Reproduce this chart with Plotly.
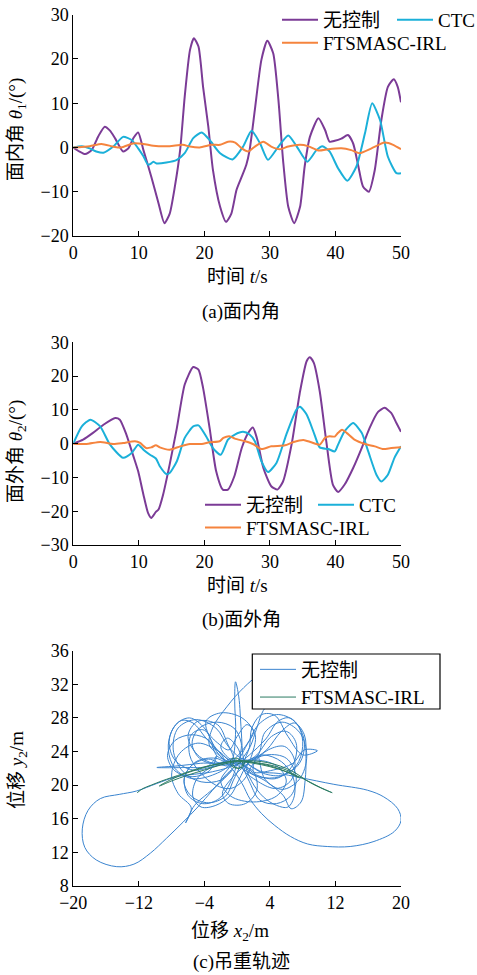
import plotly.graph_objects as go

# ---------------- data: (a) in-plane angle ----------------
t_a_nc = [0,0.9,1.8,2.8,3.8,4.8,5.6,6.4,7.6,8.4,9.2,9.9,10.7,11.9,13.0,13.9,14.7,15.5,16.3,17.0,17.8,18.4,19.1,19.8,20.6,21.3,22.4,23.3,24.1,24.9,25.7,26.4,26.9,27.7,28.7,29.6,30.5,31.3,32.0,32.8,33.7,34.6,35.3,36.1,37.4,38.4,39.1,39.9,40.9,41.9,42.7,43.5,44.2,45.1,46.0,47.0,48.0,48.9,49.5,50.0]
v_a_nc = [0,-0.9,-1.5,-0.6,2.5,4.7,3.8,2.0,-0.9,-0.2,2.2,3.4,-0.6,-6.6,-12.6,-17.1,-15.0,-8.8,-0.6,11.5,22.0,24.7,22.8,13.7,4.7,-5.0,-13.4,-16.8,-15.0,-9.6,-6.6,-3.9,-0.6,8.5,19.8,24.1,21.3,10.7,-2.8,-13.4,-17.1,-13.4,-4.3,2.4,6.6,4.0,1.3,1.5,2.0,2.8,0.9,-4.3,-8.8,-10.0,-5.1,6.2,13.7,15.4,13.7,10.2]

t_a_ctc = [0,1.3,2.5,3.5,4.6,6.1,7.6,8.9,9.9,10.7,11.4,11.9,12.2,12.7,14.2,15.8,17.0,18.3,19.6,20.8,22.4,24.3,25.9,27.2,28.5,29.7,31.3,32.8,34.1,35.7,37.1,38.0,39.1,40.4,41.8,43.2,44.5,45.6,46.8,48.0,49.3,50.0]
v_a_ctc = [0,0.3,-0.2,-0.9,-1.2,0.2,2.4,1.7,-0.2,-2.0,-3.9,-3.6,-3.2,-3.6,-3.4,-2.8,-1.3,2.1,3.4,1.7,-1.3,-2.7,0.2,3.8,0.9,-2.8,0.2,2.7,0.2,-3.2,-0.6,0.3,-0.9,-4.7,-7.5,-4.3,3.2,10.0,6.2,-2.1,-5.8,-5.8]

t_a_ft = [0,2.5,4.3,6.1,7.3,9.1,10.7,12.2,14.7,16.7,17.8,19.3,21.1,22.4,23.6,24.7,25.7,26.7,27.7,29.0,30.2,31.5,32.8,34.6,35.8,37.4,38.9,40.9,42.4,43.7,45.5,47.5,48.8,50.0]
v_a_ft = [0,0.3,0.8,0.2,0.0,0.9,0.8,0.4,0.3,0.6,0.2,0.0,0.6,0.6,1.3,1.1,-0.2,-0.9,0.2,1.3,0.2,-0.4,0.2,0.6,0.3,-0.7,-0.4,-0.2,-0.6,-1.3,-0.2,1.1,0.6,-0.4]

# ---------------- data: (b) out-of-plane angle ----------------
t_b_nc = [0,1.5,3.0,4.6,6.4,7.1,8.1,9.1,9.9,10.7,11.4,11.9,12.6,13.0,13.7,14.7,15.8,17.0,18.3,19.1,19.8,20.8,21.8,22.8,23.6,24.6,25.7,26.7,27.4,28.0,29.0,30.2,31.15,32.0,33.3,34.6,35.6,36.1,36.7,37.6,38.6,39.6,40.4,41.4,42.7,44.0,45.2,46.5,47.5,48.5,49.3,50.0]
v_b_nc = [0,1.2,3.2,5.6,7.6,7.1,2.7,-3.3,-8.2,-15.1,-20.5,-22.0,-20.2,-19.5,-15.1,-6.2,4.6,17.5,22.7,21.9,16.5,4.6,-8.2,-13.6,-13.6,-9.5,-1.3,3.2,4.8,1.7,-7.2,-12.6,-13.6,-11.2,-0.3,15.5,24.4,25.6,23.9,15.5,0.7,-12.1,-14.3,-12.1,-7.2,-1.3,4.6,9.4,10.6,9.1,6.1,3.5]

t_b_ctc = [0,1.3,2.6,4.1,5.6,7.6,8.9,9.9,10.7,11.7,12.6,13.2,14.2,14.7,15.8,17.0,18.3,19.1,20.1,21.3,22.5,23.6,24.65,25.9,26.9,27.7,28.7,29.7,31.0,32.5,34.05,34.6,35.6,36.8,37.6,38.9,39.9,40.4,41.4,42.7,44.0,45.0,46.25,47.0,48.0,49.0,50.0]
v_b_ctc = [0,5.1,7.1,5.1,-0.3,-4.2,-2.8,-0.3,-1.8,-3.3,-4.4,-6.7,-9.0,-8.7,-5.2,1.7,5.1,5.4,2.7,-1.3,-3.3,1.2,2.7,3.5,2.7,0.7,-5.2,-8.4,-5.7,2.7,10.1,10.9,8.6,2.7,-1.1,-1.6,-2.3,-0.3,3.7,6.1,3.2,-2.3,-9.2,-11.2,-9.2,-4.2,-0.8]

t_b_ft = [0,2.0,4.1,6.1,7.6,9.4,10.2,11.1,11.9,12.6,13.2,14.7,16.3,17.8,19.6,20.8,22.3,22.9,23.8,24.65,26.2,27.4,28.7,30.2,32.3,33.5,35.1,36.3,37.6,38.4,39.1,39.9,40.4,41.0,41.7,42.9,44.5,46.0,47.3,48.5,50.0]
v_b_ft = [0,-0.1,0.5,-0.1,0.2,0.7,0.2,-1.3,-1.1,-0.5,-1.1,-1.8,-0.8,-0.1,-0.1,0.4,0.7,1.7,2.2,1.5,0.7,-0.1,-1.6,-0.8,-0.5,0.4,1.1,0.4,-0.3,1.7,2.2,2.1,3.2,4.1,3.2,1.2,-0.1,-0.8,-1.6,-1.3,-1.1]

# ---------------- data: (c) load trajectory, (x2, y2) pairs ----------------
c_nc_pts = [
    (0.0,22.5),(1.5,23.6),(3.5,25.5),(5.0,27.6),(6.4,28.0),(7.6,26.8),(8.0,24.6),(7.2,22.3),(5.2,21.0),(2.6,21.0),(0.3,22.2),
    (-1.8,23.6),(-3.8,25.6),(-5.4,27.4),(-6.8,27.7),(-8.0,26.4),(-8.4,24.2),(-7.6,22.0),(-5.6,20.8),(-3.0,21.2),(-0.8,22.6),
    (-0.2,26.0),(-0.3,30.0),(-0.2,32.3),(0.2,30.5),(0.5,26.5),(0.8,23.0),
    (1.8,20.4),(3.2,18.6),(4.8,17.6),(6.2,17.4),(7.0,18.8),(6.8,21.0),(5.4,22.8),(3.2,23.6),(1.0,23.0),
    (-1.0,24.5),(-2.6,26.8),(-5.0,27.8),(-7.2,26.8),(-7.8,24.2),(-6.6,21.6),(-4.4,20.4),(-2.0,20.6),(-0.6,21.8),
    (-2.4,20.0),(-3.6,19.0),(-5.2,17.6),(-6.3,15.5),(-5.6,17.3),(-7.2,19.0),(-8.0,21.2),(-7.0,23.8),(-4.8,25.0),(-2.2,24.0),(-0.4,22.6),
    (1.2,24.8),(2.6,27.2),(4.8,28.4),(7.0,27.6),(8.2,25.2),(7.6,22.6),(5.6,21.2),(3.2,21.4),(1.2,22.6),
    (3.0,21.6),(5.0,21.4),(7.7,20.9),(11.8,20.1),(15.9,19.4),(17.9,18.6),(19.6,17.2),(20.0,15.8),(19.2,14.5),(16.7,13.3),
    (13.8,12.7),(11.0,12.7),(8.6,13.0),(6.5,13.9),(4.6,15.2),(3.0,16.6),(1.6,18.3),(0.6,20.2),(-0.5,21.8),
    (-2.5,24.0),(-4.0,26.8),(-5.8,28.0),(-7.5,27.2),(-8.3,25.2),(-7.6,23.0),(-5.4,21.8),(-2.6,22.3),(-0.2,22.8),
    (-0.8,20.4),(-2.2,18.4),(-4.2,17.8),(-6.0,18.8),(-6.4,21.0),(-5.0,22.8),(-2.6,23.2),(-0.8,22.4),
    (-2.0,23.4),(-3.4,24.8),(-3.0,26.8),(-1.2,29.4),(0.8,31.6),(2.6,33.0),(4.6,33.4),(5.6,32.0),(4.6,30.4),(3.2,28.9),(2.4,26.8),(1.6,24.6),(0.4,22.6),
    (2.5,23.5),(3.4,26.3),(5.5,27.5),(7.6,26.3),(8.5,23.5),(7.6,20.7),(5.5,19.5),(3.4,20.7),(2.5,23.5),
    (2.0,21.6),(4.4,21.8),(6.8,22.6),(8.2,24.2),(9.8,24.1),(8.0,23.6),(6.2,25.8),(4.6,28.3),(3.0,28.4),(1.8,26.8),(1.5,24.5),(0.8,22.4),
    (1.6,20.2),(2.8,18.2),(4.8,17.8),(6.6,18.8),(7.2,21.0),(6.0,23.2),(3.6,23.6),(1.4,22.6),
    (0.2,20.6),(-0.8,18.8),(-2.6,17.6),(-4.4,17.4),(-5.4,18.6),(-5.0,20.6),(-3.4,22.0),(-1.2,22.8),
    (-2.5,23.5),(-3.4,25.3),(-5.5,26.0),(-7.6,25.3),(-8.5,23.5),(-7.6,21.7),(-5.5,21.0),(-3.4,21.7),(-2.5,23.5),
    (-3.5,22.3),(-6.5,22.1),(-9.8,22.1),(-7.2,22.3),(-4.5,22.6),(-1.6,22.9),
    (-3.0,25.0),(-3.8,27.6),(-2.0,28.6),(0.6,28.0),(2.2,26.0),(1.8,23.6),
    (1.2,22.0),(3.6,20.4),(5.6,18.8),(6.6,17.2),(7.8,18.0),(8.3,20.6),(8.4,23.2),(8.2,26.0),(7.0,27.4),(5.4,26.4),(3.6,24.2),(1.6,22.8),
    (-0.5,21.0),(-1.8,19.0),(-1.0,17.8),(1.0,17.8),(2.4,19.4),(2.0,21.6),(0.4,22.6),
    (0.5,25.0),(-0.4,26.8),(-2.5,27.5),(-4.6,26.8),(-5.5,25.0),(-4.6,23.2),(-2.5,22.5),(-0.4,23.2),
    (-0.6,22.4),(-3.0,21.6),(-5.2,21.3),(-7.4,21.0),(-9.8,20.2),(-12.3,19.3),(-14.4,18.9),(-16.7,18.4),(-18.2,17.0),(-18.9,14.8),
    (-18.6,12.6),(-17.2,11.1),(-14.7,10.3),(-12.6,10.6),(-10.6,11.9),(-8.6,13.7),(-6.6,15.6),(-4.8,17.4),(-3.0,19.4),(-1.4,21.2),(0.0,22.6),
    (-2.0,22.4),(-4.6,23.4),(-6.0,25.8),(-4.8,27.6),(-2.4,27.2),(-1.2,25.0),(-0.4,23.0),
    (-0.8,22.3),(-2.0,20.5),(-0.8,18.7),(2.0,18.0),(4.8,18.7),(6.0,20.5),(4.8,22.3),(2.0,23.0),(-0.8,22.3),
    (1.0,24.6),(2.0,26.4),(1.2,27.2),(0.0,25.8),(-1.0,24.2),(-2.6,25.2),(-4.2,26.6),(-5.6,26.0),(-5.8,23.6),(-4.6,21.6),
    (-2.6,20.0),(-0.8,19.6),(0.8,20.6),(2.0,22.6),(3.8,24.2),(5.8,24.6),(7.0,23.0),(6.6,20.6),(4.8,19.6),(2.6,20.4),(0.6,22.2),
    (2.4,23.6),(4.2,25.8),(6.0,26.4),(7.2,25.0),(6.8,22.4),(4.8,20.8),(2.4,21.2),(0.8,22.4),
    (-1.0,23.2),(-2.0,24.6),(-1.2,25.6),(0.2,24.2),(0.4,22.6),
    (-0.5,20.5),(-1.4,18.7),(-3.5,17.9),(-5.6,18.7),(-6.5,20.5),(-5.6,22.3),(-3.5,23.1),(-1.4,22.3),(0.0,22.5),
]
c_ft_pts = [
    (-12.2,19.1),(-11.5,19.6),(-10.5,20.0),(-9.2,20.5),(-8.0,20.9),(-6.5,21.4),(-5.0,21.9),(-3.5,22.3),(-2.0,22.6),(-1.0,22.8),
    (0.0,22.9),(1.5,22.9),(3.0,22.8),(4.5,22.5),(6.0,22.0),(7.2,21.4),(8.4,20.6),(9.5,20.0),(10.6,19.5),(11.6,19.1),
    (10.0,19.8),(8.0,20.8),(6.0,21.6),(4.0,22.2),(2.0,22.6),(0.0,22.8),(-2.0,22.4),(-4.0,21.8),(-6.0,21.2),(-8.0,20.5),
    (-9.5,19.9),(-8.0,20.7),(-6.0,21.5),(-4.0,22.1),(-2.0,22.6),(0.0,22.9),(2.0,22.7),(4.0,22.3),(6.0,21.6),(7.5,20.9),
    (6.0,21.8),(4.0,22.4),(2.0,22.7),(1.0,22.8),(0.6,22.1),(-0.6,22.2),(-0.8,23.0),(0.0,23.2),(0.7,22.6),(0.2,22.0),
    (-0.5,22.4),(-0.2,23.0),(0.4,22.7),(0.0,22.5),
]

# ---------------- styling ----------------
PURPLE = "#7B3B96"
CYAN = "#1BB0D9"
ORANGE = "#F5843E"
BLUE = "#3A84CF"
GREEN = "#2B7B62"
FONT = "Liberation Serif, Noto Sans CJK SC, serif"
W, H = 477, 975

def px(x):
    return x / W

def py(y):
    return 1 - y / H

x_c_nc = [p[0] for p in c_nc_pts]
y_c_nc = [p[1] for p in c_nc_pts]
x_c_ft = [p[0] for p in c_ft_pts]
y_c_ft = [p[1] for p in c_ft_pts]

fig = go.Figure()

def add_line(x, y, color, name, xa, ya, legend, width=2.0, smooth=0.6):
    fig.add_trace(go.Scatter(x=x, y=y, mode="lines", name=name,
                             line=dict(color=color, width=width, shape="spline", smoothing=smooth),
                             xaxis=xa, yaxis=ya, legend=legend, showlegend=True))

add_line(t_a_nc, v_a_nc, PURPLE, "无控制", "x", "y", "legend")
add_line(t_a_ctc, v_a_ctc, CYAN, "CTC", "x", "y", "legend2")
add_line(t_a_ft, v_a_ft, ORANGE, "FTSMASC-IRL", "x", "y", "legend3")
add_line(t_b_nc, v_b_nc, PURPLE, "无控制", "x2", "y2", "legend4")
add_line(t_b_ctc, v_b_ctc, CYAN, "CTC", "x2", "y2", "legend5")
add_line(t_b_ft, v_b_ft, ORANGE, "FTSMASC-IRL", "x2", "y2", "legend6")
add_line(x_c_nc, y_c_nc, BLUE, "无控制", "x3", "y3", "legend7", width=1.0, smooth=1.0)
add_line(x_c_ft, y_c_ft, GREEN, "FTSMASC-IRL", "x3", "y3", "legend7", width=1.0, smooth=1.0)

XD = [px(73.3), px(401)]
axis_common = dict(showline=True, linecolor="black", linewidth=1, ticks="inside", ticklen=5,
                   tickcolor="black", tickwidth=1, showgrid=False, zeroline=False,
                   tickfont=dict(family=FONT, size=18, color="black"), mirror=False)

fig.update_layout(
    width=W, height=H, margin=dict(l=0, r=0, t=0, b=0, autoexpand=False),
    paper_bgcolor="white", plot_bgcolor="white",
    font=dict(family=FONT, size=18, color="black"),
    xaxis=dict(domain=XD, range=[0, 50], tickvals=[0, 10, 20, 30, 40, 50], anchor="y", **axis_common),
    yaxis=dict(domain=[py(236), py(14.7)], range=[-20, 30], tickvals=[-20, -10, 0, 10, 20, 30], anchor="x", **axis_common),
    xaxis2=dict(domain=XD, range=[0, 50], tickvals=[0, 10, 20, 30, 40, 50], anchor="y2", **axis_common),
    yaxis2=dict(domain=[py(545), py(342.3)], range=[-30, 30], tickvals=[-30, -20, -10, 0, 10, 20, 30], anchor="x2", **axis_common),
    xaxis3=dict(domain=XD, range=[-20, 20], tickvals=[-20, -12, -4, 4, 12, 20], anchor="y3", **axis_common),
    yaxis3=dict(domain=[py(886), py(650.7)], range=[8, 36], tickvals=[8, 12, 16, 20, 24, 28, 32, 36], anchor="x3", **axis_common),
)

leg = dict(bgcolor="rgba(0,0,0,0)", borderwidth=0, font=dict(family=FONT, size=19, color="black"),
           xanchor="left", yanchor="middle", itemwidth=36, tracegroupgap=0)
fig.update_layout(
    legend=dict(x=px(277), y=py(20), **leg),
    legend2=dict(x=px(392), y=py(20), **leg),
    legend3=dict(x=px(277), y=py(43), **leg),
    legend4=dict(x=px(200), y=py(505), **leg),
    legend5=dict(x=px(313), y=py(505), **leg),
    legend6=dict(x=px(200), y=py(527.7), **leg),
    legend7=dict(x=px(255), y=py(683.5), **leg),
)

# legend frame for (c)
fig.add_shape(type="rect", xref="paper", yref="paper", x0=px(252.3), x1=px(440), y0=py(709), y1=py(654),
              line=dict(color="black", width=1.2), fillcolor="white", layer="above")

ann = []
def text(x, y, s, angle=0, size=19):
    ann.append(dict(x=px(x), y=py(y), xref="paper", yref="paper", text=s, showarrow=False,
                    xanchor="center", yanchor="middle", textangle=angle,
                    font=dict(family=FONT, size=size, color="black")))

text(17, 130, "面内角 <i>θ</i><sub>1</sub>/(°)", angle=-90)
text(237, 277, "时间 <i>t</i>/s")
text(241, 312, "(a)面内角")
text(17, 452, "面外角 <i>θ</i><sub>2</sub>/(°)", angle=-90)
text(237, 585, "时间 <i>t</i>/s")
text(242, 620, "(b)面外角")
text(18, 770, "位移 <i>y</i><sub>2</sub>/m", angle=-90)
text(230, 932, "位移 <i>x</i><sub>2</sub>/m")
text(242, 962, "(c)吊重轨迹")
fig.update_layout(annotations=ann)

fig.write_html("out.html")
